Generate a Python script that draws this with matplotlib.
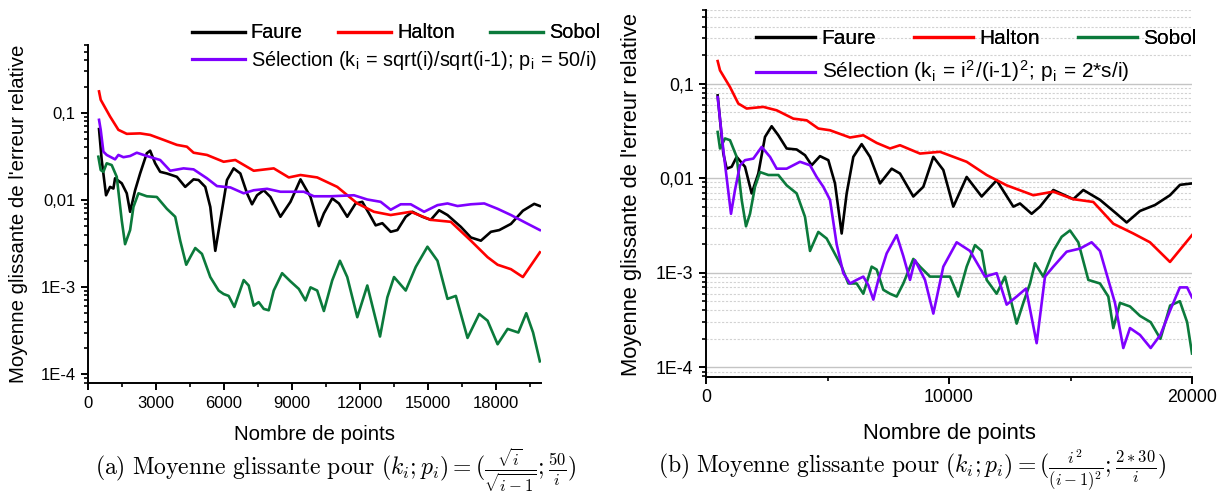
import matplotlib
matplotlib.use("Agg")
import matplotlib.pyplot as plt
from matplotlib.lines import Line2D
from matplotlib.ticker import FixedLocator, FixedFormatter, LogLocator, NullFormatter

plt.rcParams['font.family'] = ['Liberation Sans', 'DejaVu Sans']
plt.rcParams['mathtext.fontset'] = 'cm'

# ---- data, panel (a) ----
faure_a_x = [487, 605, 797, 974, 1121, 1195, 1490, 1711, 1859, 2080, 2301, 2596, 2744, 2965, 3186, 3481,
             3924, 4292, 4661, 4882, 5177, 5399, 5620, 5841, 6136, 6431, 6726, 7021, 7242, 7464, 7759,
             8054, 8496, 8939, 9381, 9824, 10192, 10414, 10782, 11077, 11446, 11815, 12110, 12405, 12700,
             12995, 13364, 13659, 14027, 14322, 14765, 15134, 15502, 15871, 16461, 16904, 17346, 17789,
             18157, 18674, 19200, 19700, 19950]
faure_a_y = [0.065, 0.0287, 0.0113, 0.0141, 0.0135, 0.0177, 0.0155, 0.0119, 0.0073, 0.0129, 0.0201, 0.0343,
             0.0367, 0.0263, 0.021, 0.0201, 0.0184, 0.0141, 0.0172, 0.0169, 0.0141, 0.0083, 0.0026, 0.0058,
             0.0169, 0.023, 0.0201, 0.0119, 0.0089, 0.0113, 0.0129, 0.0108, 0.0064, 0.0095, 0.0172, 0.0108,
             0.005, 0.007, 0.0104, 0.0091, 0.0064, 0.0091, 0.0095, 0.007, 0.0051, 0.0054, 0.0043, 0.0045,
             0.0064, 0.0073, 0.0064, 0.0059, 0.0076, 0.0067, 0.0049, 0.0037, 0.0034, 0.0043, 0.0045, 0.0053,
             0.0075, 0.009, 0.0085]

halton_a_x = [487, 561, 974, 1342, 1711, 2301, 2744, 3333, 3924, 4366, 4661, 5251, 5988, 6505, 7316, 8201,
              8865, 9381, 10119, 11004, 11889, 12626, 13364, 14249, 15134, 16019, 16904, 17641, 18084,
              18674, 19200, 19950]
halton_a_y = [0.176, 0.141, 0.0906, 0.0637, 0.0573, 0.058, 0.0557, 0.0489, 0.0428, 0.0408, 0.0348, 0.0328,
              0.0274, 0.0287, 0.0216, 0.023, 0.0181, 0.0193, 0.0181, 0.0141, 0.0091, 0.0073, 0.0067, 0.0073,
              0.0059, 0.0056, 0.0034, 0.0022, 0.0018, 0.0016, 0.0013, 0.0025]

sobol_a_x = [457, 561, 679, 826, 1047, 1269, 1490, 1637, 1859, 2006, 2227, 2596, 3038, 3481, 3850, 4071,
             4337, 4514, 4735, 5030, 5399, 5767, 5988, 6210, 6461, 6873, 7095, 7316, 7537, 7759, 7980, 8201,
             8570, 8939, 9307, 9602, 9824, 10119, 10414, 10782, 11122, 11446, 11889, 12331, 12892, 13216,
             13511, 14027, 14470, 14986, 15429, 15871, 16240, 16756, 17272, 17641, 18084, 18526, 19000,
             19350, 19650, 19950]
sobol_a_y = [0.0313, 0.022, 0.021, 0.0263, 0.0251, 0.0184, 0.0058, 0.0031, 0.0045, 0.0083, 0.0119, 0.011,
             0.0108, 0.0079, 0.0064, 0.0034, 0.0018, 0.0022, 0.0028, 0.0024, 0.0013, 0.00091, 0.00083,
             0.00079, 0.00059, 0.0012, 0.00104, 0.00061, 0.00067, 0.00056, 0.00054, 0.00091, 0.00144,
             0.00116, 0.00095, 0.0007, 0.00099, 0.00091, 0.00053, 0.00119, 0.002, 0.0013, 0.00045, 0.00104,
             0.00027, 0.00076, 0.0013, 0.00091, 0.0017, 0.0029, 0.002, 0.00073, 0.00079, 0.00026, 0.00049,
             0.00041, 0.00022, 0.00033, 0.0003, 0.0005, 0.0003, 0.00014]

sel_a_x = [487, 561, 679, 826, 1195, 1342, 1564, 1859, 2154, 2596, 3186, 3629, 4218, 4661, 5251, 5694,
           6284, 6873, 7316, 7906, 8496, 9086, 9529, 9971, 10709, 11741, 12331, 12921, 13364, 13806, 14249,
           14838, 15429, 15871, 16314, 16904, 17494, 18084, 18674, 19300, 19950]
sel_a_y = [0.083, 0.0637, 0.0358, 0.0328, 0.0292, 0.0328, 0.0309, 0.0319, 0.0348, 0.0319, 0.0287, 0.0216,
           0.023, 0.0224, 0.0177, 0.0144, 0.0139, 0.0119, 0.0129, 0.0134, 0.0124, 0.0124, 0.0124, 0.011,
           0.011, 0.0113, 0.0101, 0.0095, 0.0077, 0.0089, 0.0089, 0.0073, 0.0087, 0.0091, 0.0085, 0.0089,
           0.0091, 0.0079, 0.0067, 0.0055, 0.0045]

# ---- data, panel (b) ----
faure_b_x = [480, 713, 850, 1056, 1262, 1605, 1879, 2153, 2428, 2702, 2977, 3319, 3731, 4074, 4348, 4691,
             5034, 5308, 5583, 5789, 6063, 6406, 6749, 7160, 7640, 7983, 8532, 8943, 9355, 9766, 10178,
             10727, 11344, 11961, 12647, 12921, 13401, 13744, 14293, 15116, 15527, 16213, 16899, 17311,
             17859, 18476, 19094, 19505, 20000]
faure_b_y = [0.075, 0.0182, 0.0126, 0.0132, 0.0168, 0.0132, 0.0069, 0.0112, 0.0273, 0.0354, 0.0284, 0.0206,
             0.0201, 0.0175, 0.0137, 0.0171, 0.0155, 0.0088, 0.0026, 0.0069, 0.0168, 0.0229, 0.0168, 0.0088,
             0.0126, 0.0112, 0.0064, 0.0081, 0.0168, 0.0122, 0.005, 0.0103, 0.0064, 0.0095, 0.005, 0.0054,
             0.0042, 0.005, 0.0075, 0.006, 0.0075, 0.0059, 0.0042, 0.0034, 0.0045, 0.0052, 0.0066, 0.0085,
             0.0088]

halton_b_x = [480, 576, 988, 1330, 1673, 2359, 2908, 3594, 4143, 4622, 5103, 5926, 6474, 7023, 7572, 7983,
              8806, 9629, 10727, 11550, 12373, 13470, 14293, 15116, 15939, 16762, 17585, 18270, 19094, 20000]
halton_b_y = [0.173, 0.138, 0.092, 0.0615, 0.0545, 0.0567, 0.0522, 0.0426, 0.0409, 0.0335, 0.0321, 0.0269,
              0.0284, 0.0236, 0.0206, 0.0223, 0.0182, 0.019, 0.0149, 0.0108, 0.0084, 0.0066, 0.0072, 0.006,
              0.0056, 0.0033, 0.0026, 0.0021, 0.0013, 0.0025]

sobol_b_x = [480, 576, 782, 988, 1262, 1468, 1646, 1811, 2016, 2222, 2565, 2977, 3319, 3731, 4074, 4280,
             4622, 4966, 5240, 5583, 5857, 6200, 6474, 6817, 7023, 7297, 7572, 7846, 8120, 8532, 8806, 9218,
             9492, 10041, 10383, 10727, 11069, 11344, 11550, 11961, 12304, 12784, 13058, 13333, 13538, 13881,
             14293, 14636, 14979, 15321, 15733, 16213, 16556, 16762, 17036, 17448, 17859, 18300, 18700,
             19100, 19500, 19800, 20000]
sobol_b_y = [0.0308, 0.0206, 0.0263, 0.0252, 0.0168, 0.0059, 0.0031, 0.0042, 0.0081, 0.0116, 0.0108, 0.0108,
             0.0084, 0.0069, 0.0039, 0.0017, 0.0027, 0.0023, 0.0017, 0.00116, 0.00077, 0.00077, 0.0006,
             0.00116, 0.00108, 0.00066, 0.0006, 0.00056, 0.00077, 0.0014, 0.00116, 0.00091, 0.00091, 0.00091,
             0.00056, 0.00116, 0.00196, 0.0017, 0.00084, 0.0006, 0.00091, 0.00029, 0.00048, 0.00077, 0.00126,
             0.00091, 0.0017, 0.0024, 0.0028, 0.0021, 0.00084, 0.00077, 0.00056, 0.00026, 0.00048, 0.00044,
             0.00035, 0.0003, 0.0002, 0.00045, 0.0005, 0.0003, 0.00014]

sel_b_x = [480, 713, 878, 1029, 1193, 1399, 1605, 1948, 2291, 2634, 2908, 3319, 3868, 4280, 4554, 4828,
           5103, 5377, 5651, 5926, 6200, 6474, 6680, 6886, 7091, 7434, 7846, 8120, 8395, 8600, 9012, 9355,
           9766, 10315, 10864, 11481, 11961, 12373, 12784, 13168, 13607, 13950, 14293, 14841, 15390, 15870,
           16213, 16556, 16830, 17173, 17448, 17859, 18300, 18700, 19100, 19500, 19800, 20000]
sel_b_y = [0.072, 0.0198, 0.0088, 0.0042, 0.0075, 0.0137, 0.0155, 0.0161, 0.0214, 0.0168, 0.0126, 0.0126,
           0.0149, 0.0137, 0.0103, 0.0081, 0.0059, 0.002, 0.00099, 0.00077, 0.00084, 0.00091, 0.00074,
           0.00052, 0.00084, 0.0016, 0.0025, 0.0015, 0.00084, 0.00136, 0.00084, 0.00037, 0.00116, 0.0021,
           0.0017, 0.00091, 0.00099, 0.00046, 0.00056, 0.00068, 0.00018, 0.00091, 0.00116, 0.00167, 0.0018,
           0.0021, 0.0017, 0.00084, 0.00048, 0.00016, 0.00026, 0.00022, 0.00016, 0.00022, 0.0004, 0.0007,
           0.0007, 0.00055]

ytick_vals = [1e-4, 1e-3, 1e-2, 1e-1]
ytick_labels = ['1E-4', '1E-3', '0,01', '0,1']

BLACK, RED, GREEN, PURPLE = 'black', '#ff0000', '#0b7a3b', '#7f00ff'
LW = 1.9

W, H = 1229, 498
fig = plt.figure(figsize=(W / 100, H / 100), dpi=100)


def px_box(x0, y0, x1, y1):
    return [x0 / W, 1 - y1 / H, (x1 - x0) / W, (y1 - y0) / H]


def style_axis(ax, tick_fs):
    ax.set_yscale('log')
    ax.set_ylim(7.9e-5, 0.6)
    for s in ['top', 'right']:
        ax.spines[s].set_visible(False)
    for s in ['left', 'bottom']:
        ax.spines[s].set_linewidth(1.4)
    ax.yaxis.set_major_locator(FixedLocator(ytick_vals))
    ax.yaxis.set_major_formatter(FixedFormatter(ytick_labels))
    ax.yaxis.set_minor_locator(LogLocator(base=10, subs=[2, 3, 4, 5, 6, 7, 8, 9], numticks=20))
    ax.yaxis.set_minor_formatter(NullFormatter())
    ax.tick_params(which='major', direction='out', length=5, width=1.4, labelsize=tick_fs, pad=4)
    ax.tick_params(which='minor', direction='out', length=3, width=1.2)


# ---------------- panel (a) ----------------
ax1 = fig.add_axes(px_box(88, 45, 541, 383))
ax1.plot(faure_a_x, faure_a_y, color=BLACK, lw=LW)
ax1.plot(halton_a_x, halton_a_y, color=RED, lw=LW)
ax1.plot(sobol_a_x, sobol_a_y, color=GREEN, lw=LW)
ax1.plot(sel_a_x, sel_a_y, color=PURPLE, lw=LW)
ax1.set_xlim(0, 20000)
style_axis(ax1, 12)
ax1.set_xticks(range(0, 18001, 3000))
ax1.set_xticks(range(1500, 20000, 3000), minor=True)

# ---------------- panel (b) ----------------
ax2 = fig.add_axes(px_box(706, 10, 1192, 377))
ax2.grid(True, which='major', axis='y', color='#c4c4c4', lw=1.0, ls='-')
ax2.grid(True, which='minor', axis='y', color='#d2d2d2', lw=0.8, ls=(0, (2, 1.5)))
ax2.set_axisbelow(True)
ax2.plot(faure_b_x, faure_b_y, color=BLACK, lw=LW)
ax2.plot(halton_b_x, halton_b_y, color=RED, lw=LW)
ax2.plot(sobol_b_x, sobol_b_y, color=GREEN, lw=LW)
ax2.plot(sel_b_x, sel_b_y, color=PURPLE, lw=LW)
ax2.set_xlim(0, 20000)
style_axis(ax2, 12.8)
ax2.set_xticks([0, 10000, 20000])
ax2.set_xticks([5000, 15000], minor=True)

# axis titles
fig.text(19 / W, 1 - 214 / H, "Moyenne glissante de l'erreur relative", rotation=90,
         ha='center', va='center', fontsize=14.7)
fig.text(632 / W, 1 - 195 / H, "Moyenne glissante de l'erreur relative", rotation=90,
         ha='center', va='center', fontsize=15.8)
fig.text(314 / W, 1 - 434 / H, "Nombre de points", ha='center', va='center', fontsize=14.7)
fig.text(949 / W, 1 - 434 / H, "Nombre de points", ha='center', va='center', fontsize=15.8)


# legends
def make_legend(x0, y_row1, y_row2, fs, hl, sel_label):
    h = [Line2D([], [], color=c, lw=2.3) for c in (BLACK, RED, GREEN)]
    lg1 = fig.legend(h, ['Faure', 'Halton', 'Sobol'], loc='center left', ncol=3,
                     bbox_to_anchor=(x0 / W, 1 - y_row1 / H), frameon=False, fontsize=fs,
                     borderpad=0, borderaxespad=0, handlelength=hl, handletextpad=0.3,
                     columnspacing=1.8)
    lg2 = fig.legend([Line2D([], [], color=PURPLE, lw=2.3)], [sel_label], loc='center left',
                     bbox_to_anchor=(x0 / W, 1 - y_row2 / H), frameon=False, fontsize=fs,
                     borderpad=0, borderaxespad=0, handlelength=hl, handletextpad=0.3)
    fig.add_artist(lg1)
    return lg2


make_legend(192, 33, 60, 14.3, 2.65,
            r'Sélection (k$_{\mathregular{i}}$ = sqrt(i)/sqrt(i-1); p$_{\mathregular{i}}$ = 50/i)')
make_legend(756, 39, 72, 15, 2.85,
            r'Sélection (k$_{\mathregular{i}}$ = i$^{\mathregular{2}}$/(i-1)$^{\mathregular{2}}$; '
            r'p$_{\mathregular{i}}$ = 2*s/i)')

# captions
fig.text(336 / W, 1 - 470 / H,
         r'$\mathrm{(a)\ Moyenne\ glissante\ pour}\ (k_i;p_i) = (\frac{\sqrt{i}}{\sqrt{i-1}};\frac{50}{i})$',
         ha='center', va='center', fontsize=17)
fig.text(912 / W, 1 - 470 / H,
         r'$\mathrm{(b)\ Moyenne\ glissante\ pour}\ (k_i;p_i) = (\frac{i^2}{(i-1)^2};\frac{2*30}{i})$',
         ha='center', va='center', fontsize=17)

fig.savefig('out.png', dpi=100)
